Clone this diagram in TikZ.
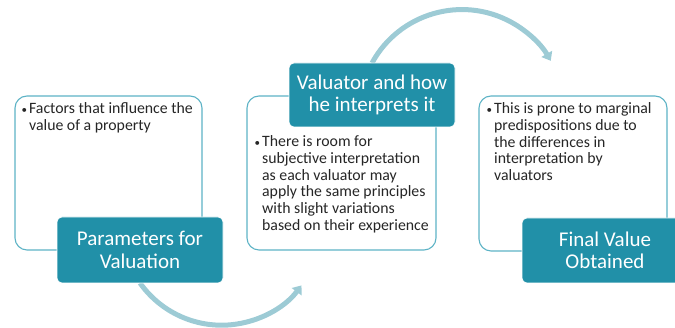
\documentclass[tikz,border=0pt]{standalone}
\usepackage{fontspec}
\setmainfont{Carlito}
\usetikzlibrary{arrows.meta}
\definecolor{tealfill}{HTML}{2190A8}
\definecolor{boxline}{HTML}{5DB3C6}
\definecolor{arcline}{HTML}{9DCBD5}
\tikzset{
  whitebox/.style={draw=boxline, line width=1.1pt, fill=white, rounded corners=12pt, inner sep=0pt},
  tealbox/.style={draw=white, line width=0.6pt, fill=tealfill, rounded corners=5pt, inner sep=0pt,
     text=white, align=center, font=\fontsize{21}{22.5}\selectfont},
  bodytext/.style={anchor=north west, inner sep=0pt, align=left, text=black!85, font=\fontsize{15.8}{16.7}\selectfont},
  arcarrow/.style={draw=arcline, line width=5pt, -{Triangle[width=12pt,length=8pt]}}
}
\newcommand{\bul}[1]{\parbox[t]{7.5pt}{\fontsize{11}{16.7}\selectfont\textbullet}\parbox[t]{185pt}{#1}}
\begin{document}
\begin{tikzpicture}[x=1pt,y=1pt]
\useasboundingbox (0,0) rectangle (675,328);
\clip (0,0) rectangle (675,328);
% white boxes
\node[whitebox, minimum width=187pt, minimum height=154pt] (w1) at (108.5,155) {};
\node[whitebox, minimum width=189pt, minimum height=154pt] (w2) at (341.5,155) {};
\node[whitebox, minimum width=188pt, minimum height=155pt] (w3) at (573,154.5) {};
% connectors (behind teal boxes)
\coordinate (a1) at (140,45);
\coordinate (a2) at (372,265);
\draw[arcarrow] (a1) arc[start angle=215.3, end angle=323, radius=100];
\draw[arcarrow] (a2) arc[start angle=151.4, end angle=30, radius=102.5];
% teal boxes
\node[tealbox, minimum width=166pt, minimum height=66pt] (t1) at (140,78) {Parameters for\\Valuation};
\node[tealbox, minimum width=166pt, minimum height=64pt] (t2) at (372,233) {Valuator and how\\he interprets it};
\node[tealbox, minimum width=166pt, minimum height=65pt] (t3) at (605,77.5) {Final Value\\Obtained};
% texts
\node[bodytext] (x1) at ([xshift=7pt,yshift=-7pt]w1.north west) {\bul{Factors that influence the\\value of a property}};
\node[bodytext] (x2) at ([xshift=8pt,yshift=-40pt]w2.north west) {\bul{There is room for\\subjective interpretation\\as each valuator may\\apply the same principles\\with slight variations\\based on their experience}};
\node[bodytext] (x3) at ([xshift=8pt,yshift=-7pt]w3.north west) {\bul{This is prone to marginal\\predispositions due to\\the differences in\\interpretation by\\valuators}};
\end{tikzpicture}
\end{document}
